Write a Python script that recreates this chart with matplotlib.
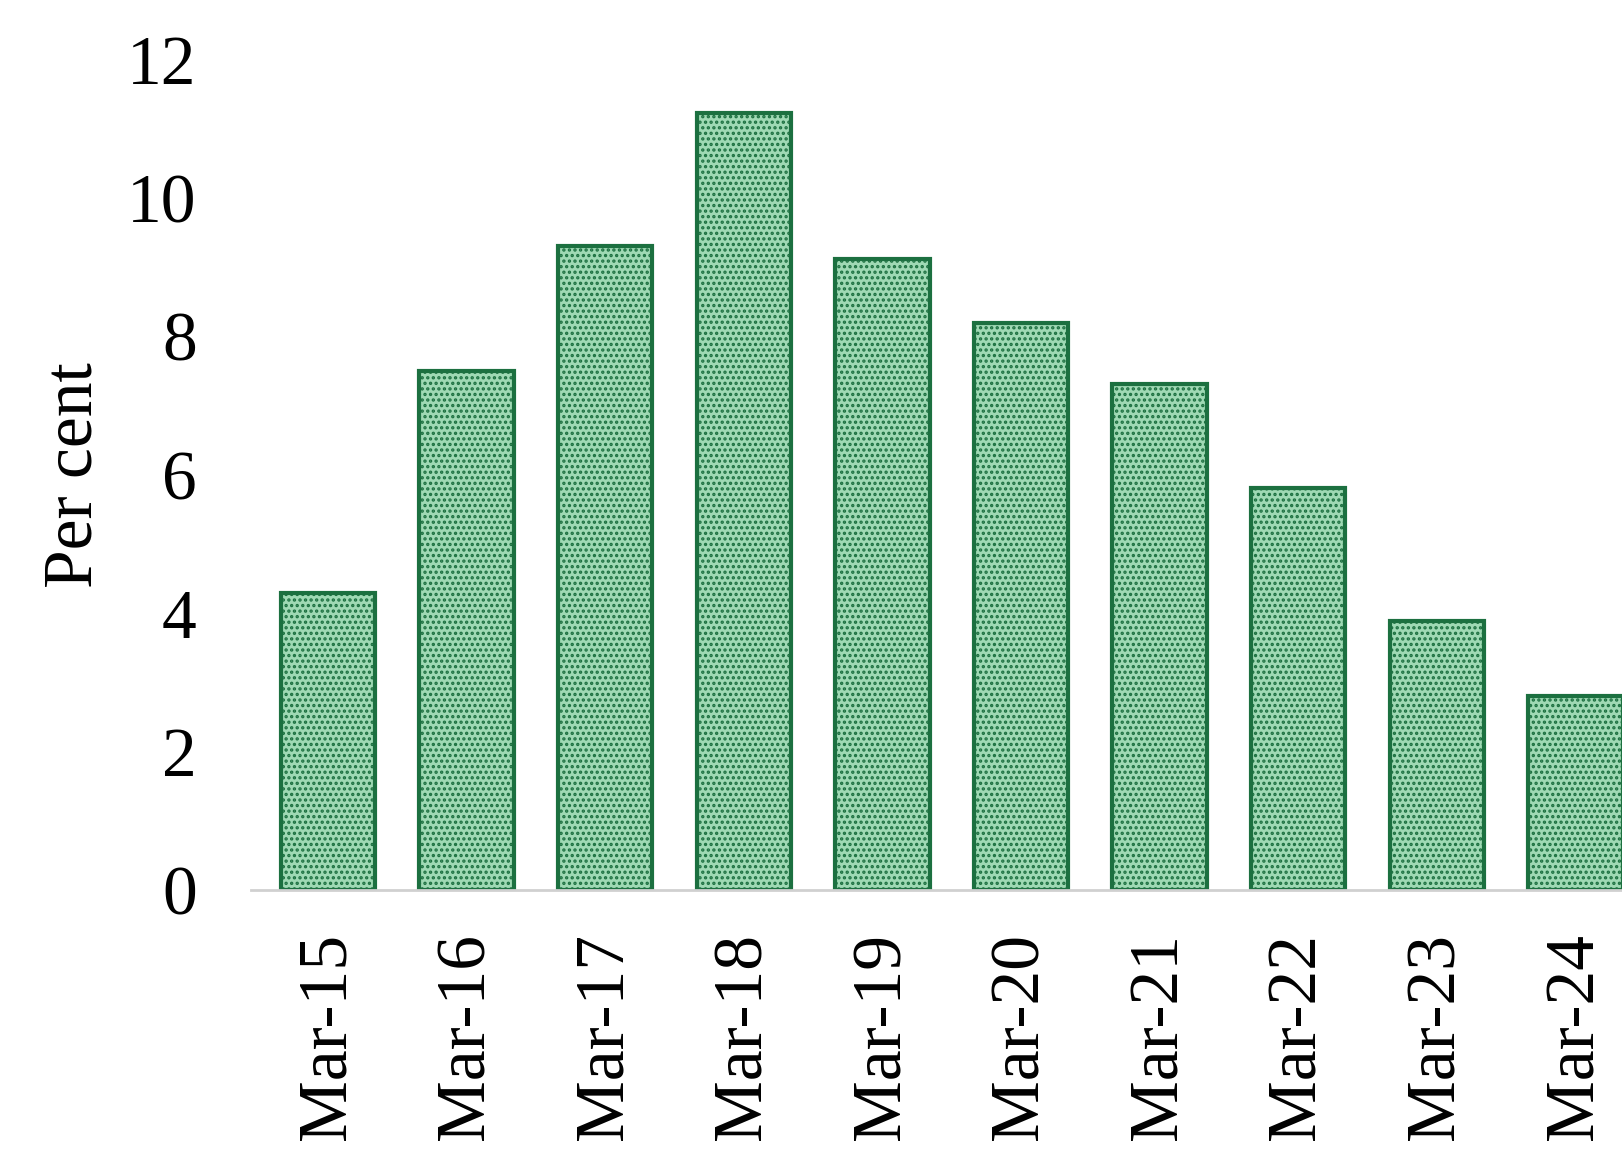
import matplotlib
matplotlib.use("Agg")
import matplotlib.pyplot as plt

# values (per cent)
labels = ['Mar-15', 'Mar-16', 'Mar-17', 'Mar-18', 'Mar-19',
          'Mar-20', 'Mar-21', 'Mar-22', 'Mar-23', 'Mar-24']
values = [4.30, 7.51, 9.31, 11.23, 9.12, 8.20, 7.31, 5.81, 3.89, 2.80]
yticks = [0, 2, 4, 6, 8, 10, 12]

plt.rcParams['font.family'] = ['Liberation Serif', 'DejaVu Serif']
plt.rcParams['hatch.linewidth'] = 1.6

fig = plt.figure(figsize=(16.22, 11.59), dpi=100)
ax = fig.add_axes([0.1547, 0.2321, 0.8453, 0.7161])

x = range(len(values))
ax.bar(x, values, width=0.68, facecolor='#9fd9b4', edgecolor='#1c7040',
       linewidth=3.0, hatch='...', zorder=2)

ax.set_xlim(-0.556, 9.336)
ax.set_ylim(0, 12)
ax.set_yticks(yticks)
ax.set_xticks(list(x))
ax.set_xticklabels(labels, rotation=90)
ax.tick_params(axis='both', length=0, labelsize=50)
ax.tick_params(axis='y', pad=39)
ax.tick_params(axis='x', pad=31)

for s in ['top', 'right', 'left']:
    ax.spines[s].set_visible(False)
ax.spines['bottom'].set_color('#d0d0d0')
ax.spines['bottom'].set_linewidth(2)

ax.set_ylabel('Per cent', fontsize=50)
ax.yaxis.set_label_coords(-0.105, 0.5)

fig.savefig('out.png', dpi=100)
